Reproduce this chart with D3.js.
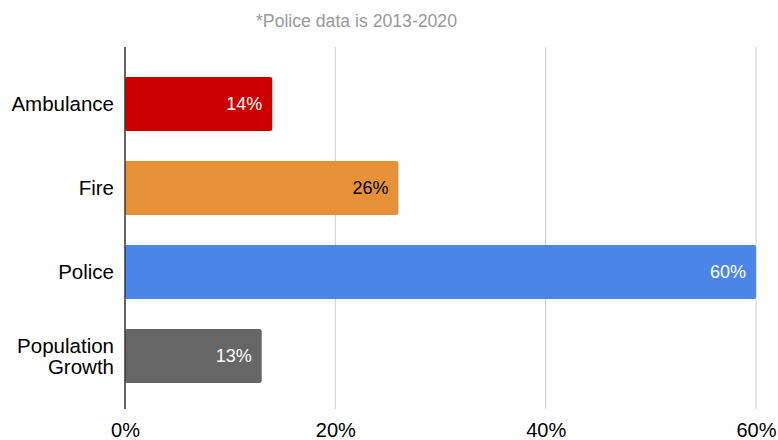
<!DOCTYPE html>
<html>
<head>
<meta charset="utf-8">
<script src="https://cdn.jsdelivr.net/npm/d3@7"></script>
<style>
  body { margin: 0; background: #fff; }
  svg { display: block; font-family: "Liberation Sans", Arial, sans-serif; }
</style>
</head>
<body>
<svg id="chart" width="778" height="440"></svg>
<script>
// chart data
const categories = ['Ambulance', 'Fire', 'Police', 'Population Growth'];
const values = [14, 26, 60, 13];
const barColors = ['#cc0000', '#e69138', '#4a86e8', '#666666'];
const labelColors = ['#fff', '#000', '#fff', '#fff'];
const xTicks = [0, 20, 40, 60];
const subtitle = '*Police data is 2013-2020';

const svg = d3.select('#chart');
const margin = { top: 47, right: 22, bottom: 31, left: 125 };
const width = 778 - margin.left - margin.right;
const height = 440 - margin.top - margin.bottom;

const g = svg.append('g').attr('transform', `translate(${margin.left},${margin.top})`);

const x = d3.scaleLinear().domain([0, 60]).range([0, width]);
const y = d3.scaleBand().domain(categories).range([2, height + 2])
	.paddingInner(0.357).paddingOuter(0.333);

// subtitle
svg.append('text')
	.attr('x', 356.5).attr('y', 27)
	.attr('text-anchor', 'middle')
	.attr('textLength', 201).attr('lengthAdjust', 'spacingAndGlyphs')
	.style('font-size', '18px').style('fill', '#999')
	.text(subtitle);

// gridlines
g.selectAll('line.grid')
	.data(xTicks.filter(d => d > 0))
	.join('line')
	.attr('class', 'grid')
	.attr('x1', d => x(d)).attr('x2', d => x(d))
	.attr('y1', 0).attr('y2', height)
	.style('stroke', '#ccc').style('stroke-width', 1);

// bars
g.selectAll('rect.bar')
	.data(categories)
	.join('rect')
	.attr('class', 'bar')
	.attr('x', x(0))
	.attr('y', d => y(d))
	.attr('width', (d, i) => x(values[i]) - x(0))
	.attr('height', y.bandwidth())
	.attr('rx', 2)
	.style('fill', (d, i) => barColors[i]);

// value labels
g.selectAll('text.val')
	.data(categories)
	.join('text')
	.attr('class', 'val')
	.attr('x', (d, i) => x(values[i]) - 10)
	.attr('y', d => y(d) + y.bandwidth() / 2)
	.attr('dy', '0.35em')
	.attr('text-anchor', 'end')
	.style('font-size', '18px')
	.style('fill', (d, i) => labelColors[i])
	.text((d, i) => values[i] + '%');

// y axis line
g.append('line')
	.attr('x1', 0).attr('x2', 0).attr('y1', 0).attr('y2', height)
	.style('stroke', '#333').style('stroke-width', 1.5);

// category labels
const catLabels = g.selectAll('text.cat')
	.data(categories)
	.join('text')
	.attr('class', 'cat')
	.attr('text-anchor', 'end')
	.style('font-size', '20.5px')
	.style('fill', '#000')
	.attr('transform', d => `translate(-11,${y(d) + y.bandwidth() / 2})`);

catLabels.each(function (d) {
	const words = d.split(' ');
	const lh = 21;
	const t = d3.select(this);
	words.forEach((w, i) => {
		t.append('tspan')
			.attr('x', 0)
			.attr('y', (i - (words.length - 1) / 2) * lh)
			.attr('dy', '0.35em')
			.text(w);
	});
});

// x axis labels
const xAxis = g.append('g')
	.attr('transform', `translate(0,${height})`)
	.call(d3.axisBottom(x).tickValues(xTicks).tickSize(0).tickPadding(14).tickFormat(d => d + '%'));
xAxis.select('.domain').remove();
xAxis.selectAll('text')
	.style('font-size', '20px')
	.style('font-family', '"Liberation Sans", Arial, sans-serif')
	.style('fill', '#000');
</script>
</body>
</html>
